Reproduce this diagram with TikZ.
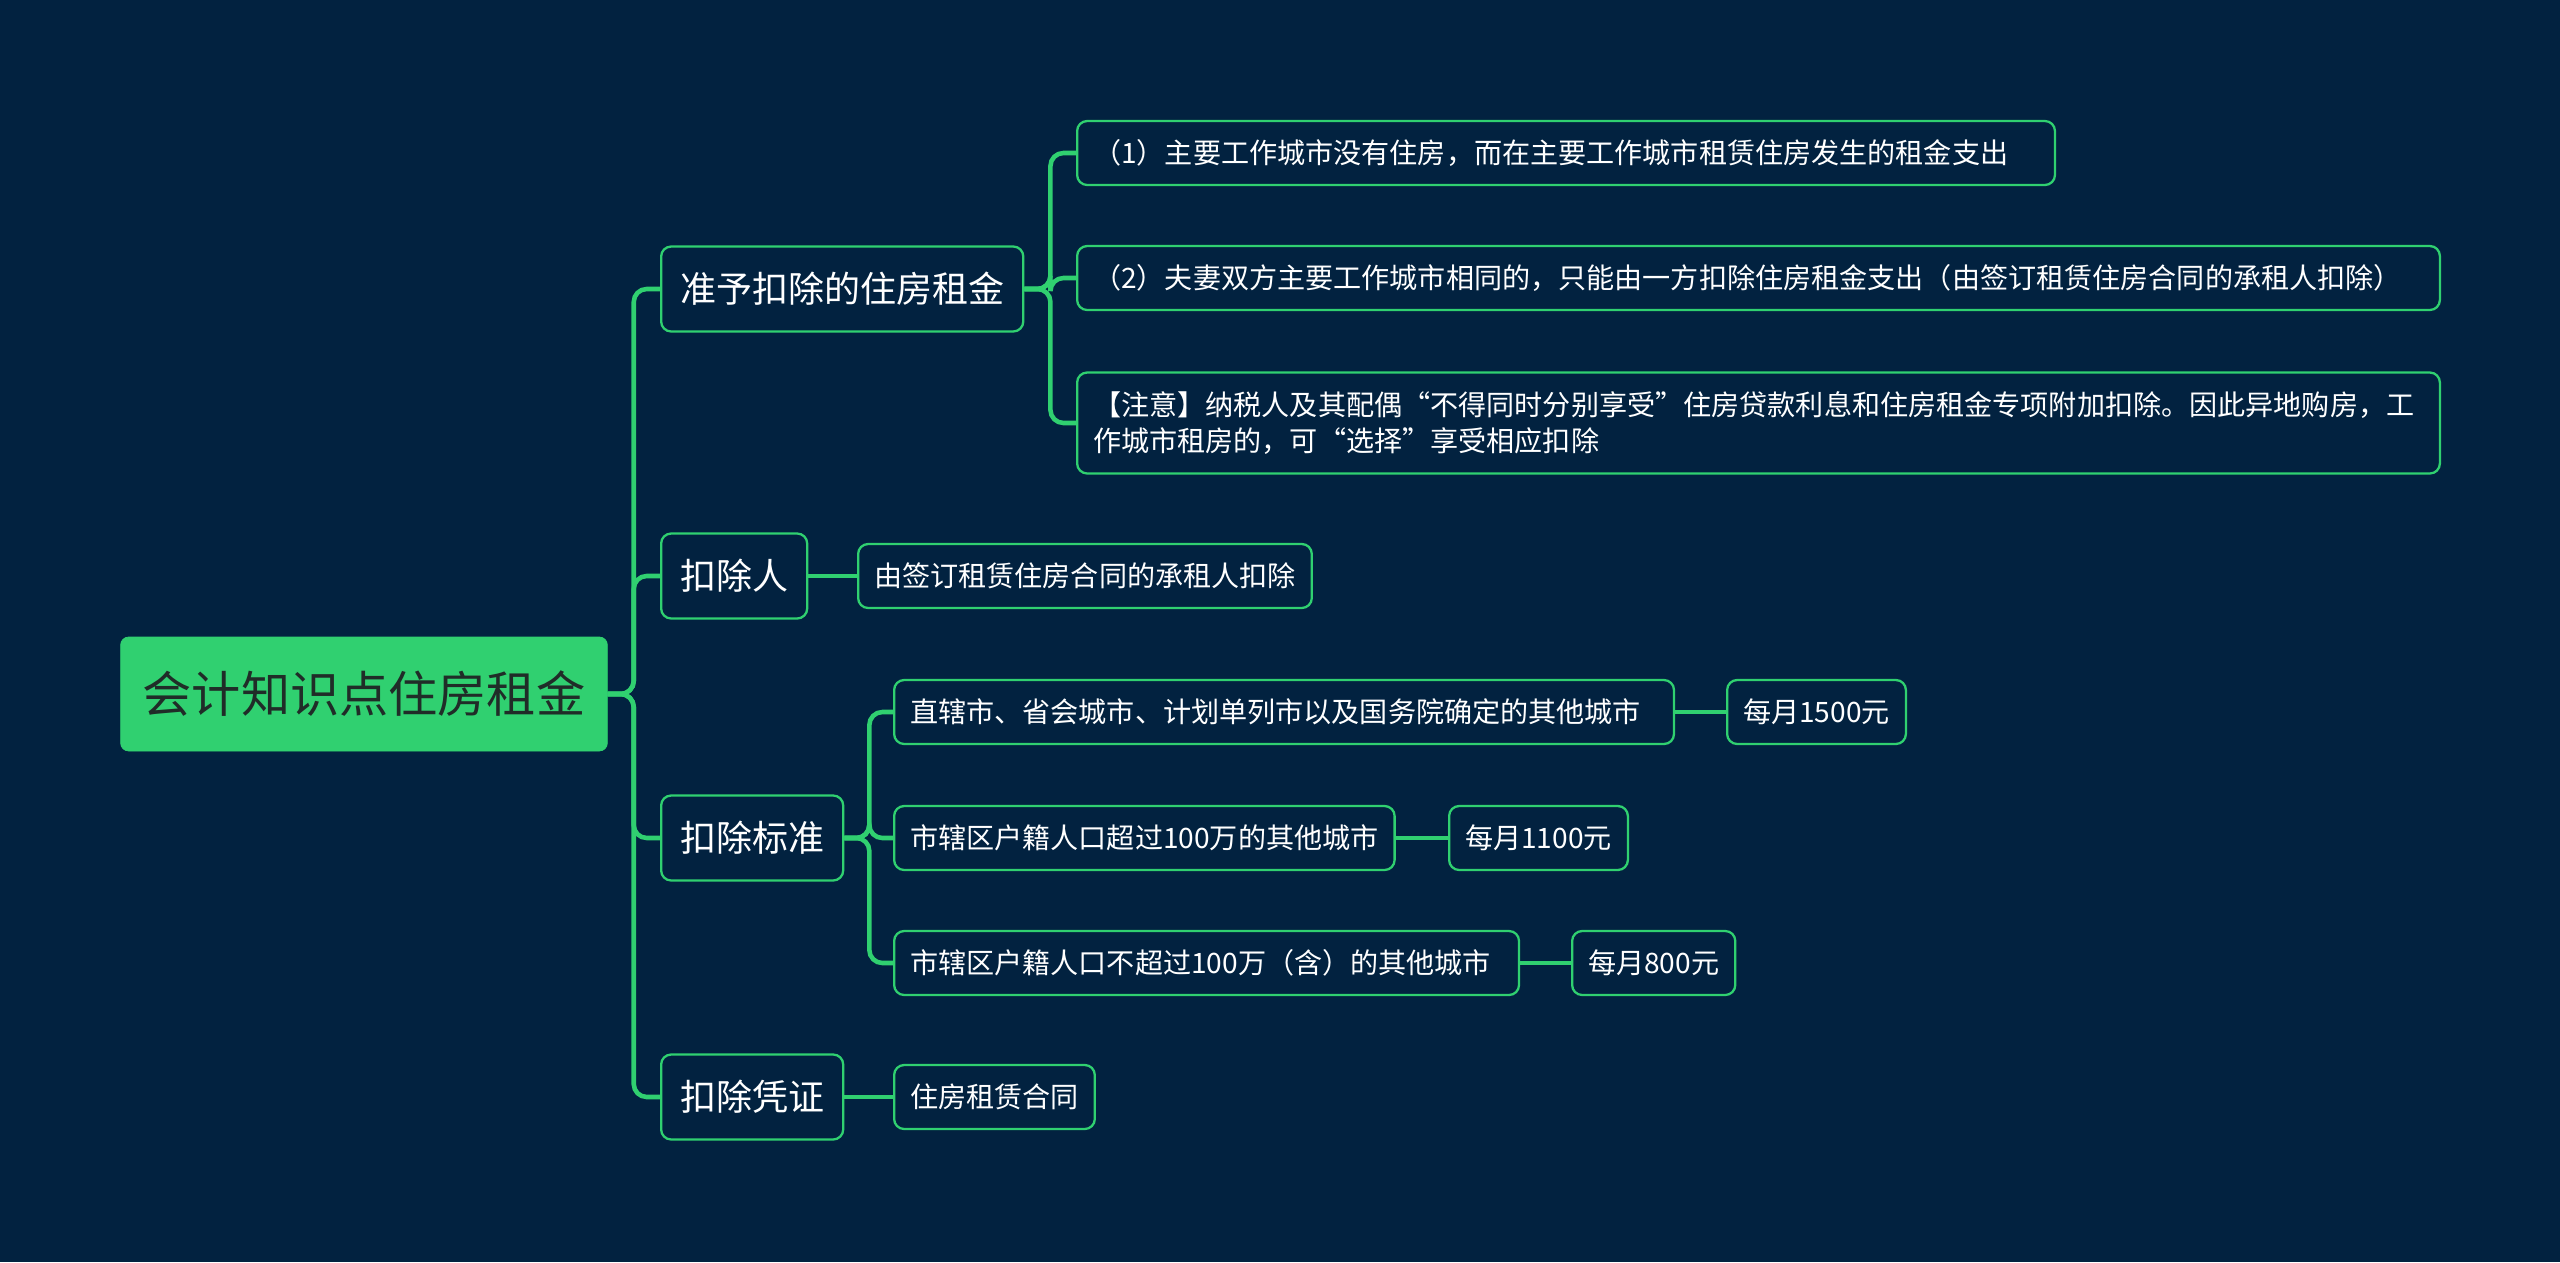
\documentclass[tikz,border=0pt]{standalone}
\usepackage{fontspec}
\setmainfont{Noto Sans CJK SC}
\usetikzlibrary{positioning}

\definecolor{bgnavy}{RGB}{2,34,64}
\definecolor{mapgreen}{RGB}{48,208,112}
\definecolor{rootink}{RGB}{32,44,40}

\tikzset{
  rootbox/.style={fill=mapgreen, draw=mapgreen, rounded corners=0.16cm,
    text=rootink, font=\fontsize{28}{34}\selectfont,
    minimum height=2.28cm, inner xsep=0.44cm},
  topicbox/.style={draw=mapgreen, line width=1.3pt, rounded corners=0.2cm,
    text=white, font=\fontsize{20.5}{25}\selectfont,
    minimum height=1.7cm, inner xsep=0.38cm, anchor=west},
  leafbox/.style={draw=mapgreen, line width=1.3pt, rounded corners=0.2cm,
    text=white, font=\fontsize{16}{20}\selectfont,
    minimum height=1.28cm, inner xsep=0.32cm, anchor=west},
  link/.style={draw=mapgreen, line width=2.6pt, rounded corners=0.26cm}
}

\begin{document}
\begin{tikzpicture}[x=0.02cm, y=-0.02cm]
% background
\fill[bgnavy] (0,0) rectangle (2560,1262);
\useasboundingbox (0,0) rectangle (2560,1262);

% root
\node[rootbox] (root) at (364,694) {会计知识点住房租金};

% first level
\node[topicbox] (zy)   at (660,289)  {准予扣除的住房租金};
\node[topicbox] (kcr)  at (660,576)  {扣除人};
\node[topicbox] (kcbz) at (660,838)  {扣除标准};
\node[topicbox] (kcpz) at (660,1097) {扣除凭证};

% second level
\node[leafbox, text width=18.92cm, align=left] (zy1) at (1076,153) {（1）主要工作城市没有住房，而在主要工作城市租赁住房发生的租金支出};
\node[leafbox, text width=26.62cm, align=left] (zy2) at (1076,278) {（2）夫妻双方主要工作城市相同的，只能由一方扣除住房租金支出（由签订租赁住房合同的承租人扣除）};
\node[leafbox, text width=26.62cm, align=left, minimum height=2.02cm] (zy3) at (1076,423)
  {【注意】纳税人及其配偶“不得同时分别享受”住房贷款利息和住房租金专项附加扣除。因此异地购房，工\\作城市租房的，可“选择”享受相应扣除};
\node[leafbox] (kcr1) at (857,576) {由签订租赁住房合同的承租人扣除};
\node[leafbox, text width=14.96cm, align=left] (bz1) at (893,712) {直辖市、省会城市、计划单列市以及国务院确定的其他城市};
\node[leafbox] (bz2) at (893,838) {市辖区户籍人口超过100万的其他城市};
\node[leafbox, text width=11.86cm, align=left] (bz3) at (893,963) {市辖区户籍人口不超过100万（含）的其他城市};
\node[leafbox] (pz1) at (893,1097) {住房租赁合同};

% third level
\node[leafbox] (bz1m) at (1726,712) {每月1500元};
\node[leafbox] (bz2m) at (1448,838) {每月1100元};
\node[leafbox] (bz3m) at (1571,963) {每月800元};

% links
\foreach \t in {zy,kcr,kcbz,kcpz}
  \draw[link] (root.east) -- ++(26,0) |- (\t.west);
\foreach \t in {zy1,zy2,zy3}
  \draw[link] (zy.east) -- ++(26,0) |- (\t.west);
\foreach \t in {bz1,bz2,bz3}
  \draw[link] (kcbz.east) -- ++(25,0) |- (\t.west);
\draw[link] (kcr.east) -- (kcr1.west);
\draw[link] (kcpz.east) -- (pz1.west);
\draw[link] (bz1.east) -- (bz1m.west);
\draw[link] (bz2.east) -- (bz2m.west);
\draw[link] (bz3.east) -- (bz3m.west);
\end{tikzpicture}
\end{document}
